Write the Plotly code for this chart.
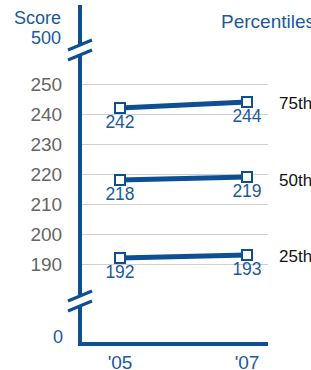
import plotly.graph_objects as go

years = ["'05", "'07"]
p75 = [242, 244]
p50 = [218, 219]
p25 = [192, 193]
series_names = ["75th", "50th", "25th"]
grid_ticks = [190, 200, 210, 220, 230, 240, 250]

BLUE = "#0e4f94"
TEXTBLUE = "#1b5a9c"
GRAY = "#666666"
FONT = "Liberation Sans, Arial, sans-serif"

W, H = 311, 370
PLOT_L, PLOT_R, PLOT_T, PLOT_B = 82, 268, 5, 342
L, R, T, B = PLOT_L, W - PLOT_R, PLOT_T, H - PLOT_B
PW, PH = PLOT_R - PLOT_L, PLOT_B - PLOT_T


def px(x):
    return (x - PLOT_L) / PW


def py(y):
    return (PLOT_B - y) / PH


xs = [0, 1]
fig = go.Figure()
for vals in (p75, p50, p25):
    fig.add_trace(go.Scatter(
        x=xs, y=vals, mode="lines+markers+text",
        text=[str(v) for v in vals], textposition="bottom center",
        textfont=dict(family=FONT, size=17.5, color=TEXTBLUE),
        line=dict(color=BLUE, width=5),
        marker=dict(symbol="square", size=10, color="white",
                    line=dict(color=BLUE, width=2)),
        cliponaxis=False, showlegend=False, hoverinfo="skip"))

r0 = -(120 - PLOT_L) / 127
fig.update_xaxes(range=[r0, r0 + PW / 127], tickvals=xs, ticktext=years,
                 showgrid=False, zeroline=False, showline=True,
                 linecolor=BLUE, linewidth=4, automargin=False,
                 tickfont=dict(family=FONT, size=19, color=TEXTBLUE))
ytop = 250 + (84 - PLOT_T) / 3
ybot = 250 - (PLOT_B - 84) / 3
fig.update_yaxes(range=[ybot, ytop], tickvals=grid_ticks,
                 showgrid=True, gridcolor="#d0d0d0", gridwidth=1,
                 zeroline=False, showline=True, linecolor=BLUE, linewidth=4,
                 ticklabelstandoff=12, automargin=False,
                 tickfont=dict(family=FONT, size=19, color=GRAY))

ann = [
    dict(text="Score", x=px(63), y=py(18), xanchor="right", color=TEXTBLUE, size=18),
    dict(text="500", x=px(63), y=py(38), xanchor="right", color=TEXTBLUE, size=18),
    dict(text="0", x=px(65), y=py(337), xanchor="right", color=TEXTBLUE, size=18),
    dict(text="Percentiles", x=px(219), y=py(22), xanchor="left", color=TEXTBLUE, size=19),
    dict(text=series_names[0], x=px(277), y=py(103), xanchor="left", color="#111111", size=17),
    dict(text=series_names[1], x=px(277), y=py(180), xanchor="left", color="#111111", size=17),
    dict(text=series_names[2], x=px(277), y=py(256), xanchor="left", color="#111111", size=17),
]
for a in ann:
    fig.add_annotation(text=a["text"], x=a["x"], y=a["y"], xref="paper", yref="paper",
                       xanchor=a["xanchor"], yanchor="middle", showarrow=False,
                       font=dict(family=FONT, size=a["size"], color=a["color"]))

shapes = []
for yc in (45, 296):
    shapes.append(dict(type="rect", xref="paper", yref="paper",
                       x0=px(75), x1=px(85), y0=py(yc + 10), y1=py(yc),
                       fillcolor="white", line=dict(width=0), layer="above"))
    for d in (0, 10):
        shapes.append(dict(type="line", xref="paper", yref="paper",
                           x0=px(68), y0=py(yc + 5 + d), x1=px(92), y1=py(yc - 5 + d),
                           line=dict(color=BLUE, width=3), layer="above"))

fig.update_layout(width=W, height=H, margin=dict(l=L, r=R, t=T, b=B),
                  plot_bgcolor="white", paper_bgcolor="white", shapes=shapes)
fig.write_html("out.html", config={"displayModeBar": False},
               post_script="document.body.style.margin='0px';"
                           "document.body.style.overflow='hidden';")
